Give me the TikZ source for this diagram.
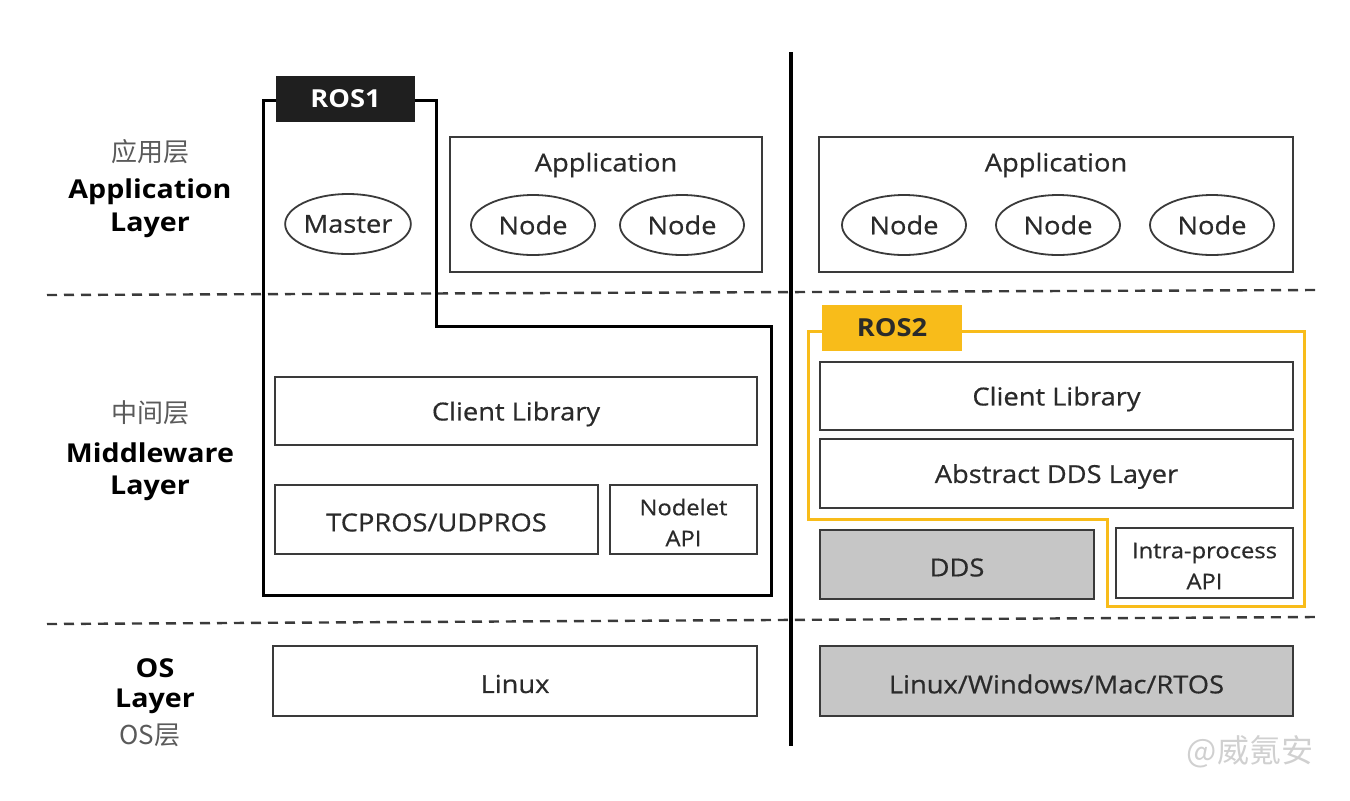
\documentclass[tikz,border=0pt]{standalone}
\usepackage{fontspec}
\setmainfont[FakeStretch=1.1]{Open Sans}
\newfontfamily\boxfont[FakeStretch=1.1,FakeBold=0.6]{Open Sans}
\newfontfamily\cjk{Noto Sans CJK SC}
\usetikzlibrary{shapes.geometric,fit}
\definecolor{boxline}{HTML}{3A3A3A}
\definecolor{txt}{HTML}{2A2A2A}
\definecolor{cjkgray}{HTML}{5A5A5A}
\definecolor{rosyellow}{HTML}{F8BC1A}
\definecolor{osgray}{HTML}{C6C6C6}
\definecolor{wm}{HTML}{D0D0D0}
\begin{document}
\begin{tikzpicture}[x=0.5pt,y=-0.5pt,
  box/.style={draw=boxline, line width=1pt, rectangle, inner sep=0pt, text=txt,
     font=\boxfont\fontsize{12.4pt}{15pt}\selectfont, align=center},
  lbl/.style={box, draw=none, yshift=-1.5pt},
  smalllbl/.style={lbl, font=\boxfont\fontsize{10.8pt}{15.5pt}\selectfont},
  graybox/.style={box, fill=osgray},
  nodeell/.style={draw=boxline, line width=0.9pt, ellipse, minimum width=62pt,
     minimum height=30pt, inner sep=0pt, text=txt, font=\boxfont\fontsize{12.4pt}{15pt}\selectfont},
  layerlbl/.style={font=\bfseries\fontsize{13pt}{15pt}\selectfont, text=black, inner sep=0pt, yshift=-1.5pt},
  cjklbl/.style={font=\cjk\fontsize{13pt}{15pt}\selectfont, text=cjkgray, inner sep=0pt},
  divider/.style={draw=boxline, line width=1.2pt, dash pattern=on 5pt off 3.5pt},
  ros1line/.style={draw=black, line width=1.5pt},
  ros2line/.style={draw=rosyellow, line width=1.5pt},
  ros1tag/.style={fill=black!88, inner sep=0pt, text=white, font=\bfseries\fontsize{12.4pt}{15pt}\selectfont},
  ros2tag/.style={fill=rosyellow, inner sep=0pt, text=txt, font=\bfseries\fontsize{12.4pt}{15pt}\selectfont}
]
\useasboundingbox (0,0) rectangle (1350,800);

% dividers
\coordinate (d1a) at (47,295);
\coordinate (d1b) at (1316,290);
\coordinate (d2a) at (47,624);
\coordinate (d2b) at (1316,617);
\draw[divider] (d1a) -- (d1b);
\draw[divider] (d2a) -- (d2b);
\coordinate (va) at (791,52);
\coordinate (vb) at (791,746);
\draw[line width=1.6pt] (va) -- (vb);

% left labels
\node[cjklbl] (l1c) at (150,152) {应用层};
\node[layerlbl] (l1a) at (150,189) {Application};
\node[layerlbl] (l1b) at (150,222) {Layer};
\node[cjklbl] (l2c) at (150,413) {中间层};
\node[layerlbl] (l2a) at (150,450) {Middleware};
\node[layerlbl] (l2b) at (150,485) {Layer};
\node[layerlbl] (l3a) at (155,665) {OS};
\node[layerlbl] (l3b) at (155,698) {Layer};
\node[cjklbl] (l3c) at (150,735) {OS层};

% ROS1 side
\node[ros1tag, fit={(276,76) (415,122)}] (ros1) {};
\node[ros1tag] at (ros1.center) {ROS1};
\draw[ros1line] (ros1.west |- 0,100) -- (263,100) -- (263,595) -- (771,595) -- (771,326) -- (436,326) -- (436,100) -- (ros1.east |- 0,100);
\node[nodeell] (master) at (348,224) {Master};
\node[box, fit={(450,137) (762,272)}] (app1) {};
\node[lbl] at (606,162) {Application};
\node[nodeell] (n11) at (533,225) {Node};
\node[nodeell] (n12) at (682,225) {Node};
\node[box, fit={(275,377) (757,445)}] (cl1) {};
\node[lbl] at (cl1.center) {Client Library};
\node[box, fit={(275,485) (598,554)}] (tcp) {};
\node[lbl] at (tcp.center) {TCPROS/UDPROS};
\node[box, fit={(610,485) (757,554)}] (nodelet) {};
\node[smalllbl] at (nodelet.center) {Nodelet\\API};
\node[box, fit={(273,646) (757,716)}] (linux) {};
\node[lbl] at (linux.center) {Linux};

% ROS2 side
\node[box, fit={(819,137) (1293,272)}] (app2) {};
\node[lbl] at (1056,162) {Application};
\node[nodeell] (n21) at (904,225) {Node};
\node[nodeell] (n22) at (1058,225) {Node};
\node[nodeell] (n23) at (1212,225) {Node};
\node[ros2tag, fit={(822,305) (962,351)}] (ros2) {};
\node[ros2tag] at (ros2.center) {ROS2};
\draw[ros2line] (ros2.west |- 0,331) -- (808,331) -- (808,519) -- (1107,519) -- (1107,606) -- (1304,606) -- (1304,331) -- (ros2.east |- 0,331);
\node[box, fit={(820,362) (1293,430)}] (cl2) {};
\node[lbl] at (cl2.center) {Client Library};
\node[box, fit={(820,439) (1293,508)}] (adds) {};
\node[lbl] at (adds.center) {Abstract DDS Layer};
\node[graybox, fit={(820,530) (1094,599)}] (dds) {};
\node[lbl] at (dds.center) {DDS};
\node[box, fit={(1116,528) (1293,598)}] (intra) {};
\node[smalllbl] at (intra.center) {Intra-process\\API};
\node[graybox, fit={(820,646) (1293,716)}] (os2) {};
\node[lbl] at (os2.center) {Linux/Windows/Mac/RTOS};

% watermark
\node[font=\cjk\fontsize{16pt}{18pt}\selectfont, text=wm, inner sep=0pt] (wmk) at (1250,752) {@威氪安};
\end{tikzpicture}
\end{document}
